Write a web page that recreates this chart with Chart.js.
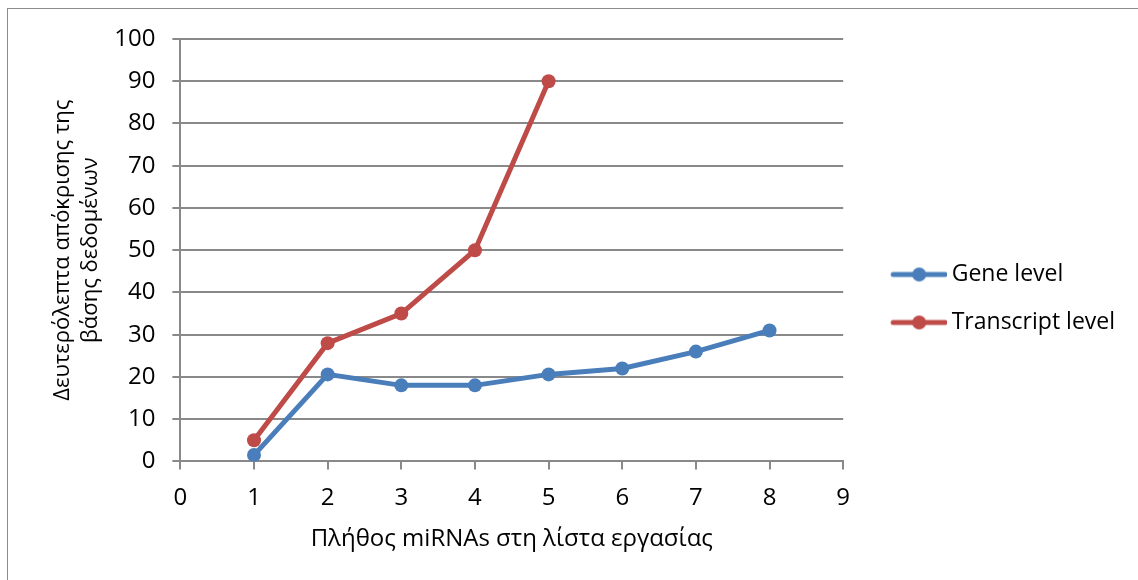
<!DOCTYPE html>
<html>
<head>
<meta charset="utf-8">
<script src="https://cdn.jsdelivr.net/npm/chart.js@4"></script>
<style>
  html, body { margin: 0; padding: 0; background: #fff; }
  #wrap { width: 1138px; height: 580px; position: relative; }
</style>
</head>
<body>
<div id="wrap"><canvas id="grafico"></canvas></div>
<script>
// dados
const geneX = [1, 2, 3, 4, 5, 6, 7, 8];
const geneY = [1.5, 20.6, 18, 18, 20.6, 22, 26, 31];
const transcriptX = [1, 2, 3, 4, 5];
const transcriptY = [5, 28, 35, 50, 90];
const seriesNames = ["Gene level", "Transcript level"];
const xTitle = "Πλήθος miRNAs στη λίστα εργασίας";
const yTitle = ["Δευτερόλεπτα απόκρισης της", "βάσης δεδομένων"];

const BLUE = "#4a7ebb";
const RED = "#be4b48";
const GRID = "#898989";
const FONT = "'Open Sans', 'Liberation Sans', sans-serif";

// icone da legenda: linha + bolinha (com margem transparente a esquerda)
function legendIcon(color) {
  const c = document.createElement("canvas");
  c.width = 86; c.height = 16;
  const g = c.getContext("2d");
  g.strokeStyle = color;
  g.lineWidth = 5;
  g.lineCap = "round";
  g.beginPath(); g.moveTo(32, 8); g.lineTo(84, 8); g.stroke();
  g.fillStyle = color;
  g.beginPath(); g.arc(58, 8, 7, 0, Math.PI * 2); g.fill();
  return c;
}
const icons = [legendIcon(BLUE), legendIcon(RED)];

const frame = {
  id: "frame",
  afterDraw(chart) {
    const ctx = chart.ctx;
    ctx.save();
    ctx.strokeStyle = "#8c8c8c";
    ctx.lineWidth = 1;
    ctx.strokeRect(7.5, 8.5, 1200, 700);
    ctx.restore();
  }
};

const pts = (xs, ys) => xs.map((x, i) => ({ x, y: ys[i] }));

const ctx = document.getElementById("grafico").getContext("2d");
new Chart(ctx, {
  type: "line",
  data: {
    datasets: [
      {
        label: seriesNames[0], data: pts(geneX, geneY),
        borderColor: BLUE, backgroundColor: BLUE, borderWidth: 5,
        pointRadius: 7, pointHoverRadius: 7, pointBorderWidth: 0
      },
      {
        label: seriesNames[1], data: pts(transcriptX, transcriptY),
        borderColor: RED, backgroundColor: RED, borderWidth: 5,
        pointRadius: 7, pointHoverRadius: 7, pointBorderWidth: 0
      }
    ]
  },
  options: {
    responsive: true,
    maintainAspectRatio: false,
    animation: false,
    layout: { padding: { left: 44, top: 39, right: 13, bottom: 22 } },
    plugins: {
      tooltip: { enabled: false },
      legend: {
        position: "right",
        maxWidth: 320,
        labels: {
          usePointStyle: true,
          pointStyleWidth: 72,
          color: "#000",
          font: { family: FONT, size: 23 },
          padding: 25,
          generateLabels(chart) {
            return chart.data.datasets.map((d, i) => ({
              text: d.label,
              pointStyle: icons[i],
              fillStyle: d.borderColor,
              strokeStyle: d.borderColor,
              lineWidth: 0,
              datasetIndex: i,
              fontColor: "#000"
            }));
          }
        }
      }
    },
    scales: {
      x: {
        type: "linear", min: 0, max: 9,
        ticks: { stepSize: 1, color: "#000", font: { family: FONT, size: 24 }, padding: 14 },
        grid: { drawOnChartArea: false, color: GRID, tickLength: 8, lineWidth: 2 },
        border: { color: GRID, width: 2 },
        title: { display: true, text: xTitle, color: "#000", font: { family: FONT, size: 24 }, padding: { top: -1 } }
      },
      y: {
        min: 0, max: 100,
        ticks: { stepSize: 10, color: "#000", font: { family: FONT, size: 24 }, padding: 17 },
        grid: { color: GRID, lineWidth: 2, tickLength: 8 },
        border: { color: GRID, width: 2 },
        title: { display: true, text: yTitle, color: "#000", font: { family: FONT, size: 22, lineHeight: 1.3 }, padding: { bottom: -8 } }
      }
    }
  },
  plugins: [frame]
});
</script>
</body>
</html>
